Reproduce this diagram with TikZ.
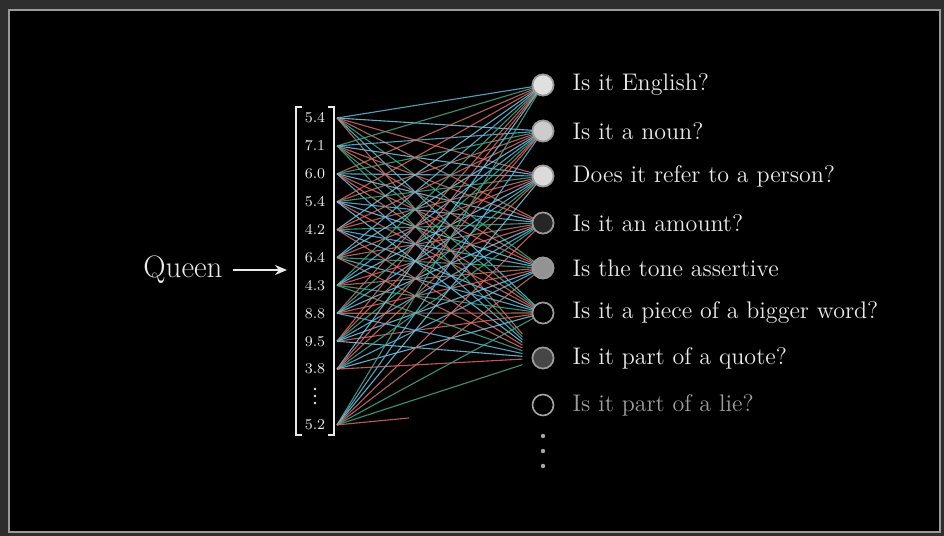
\documentclass[tikz,border=0pt]{standalone}
\usepackage{xcolor}
\usetikzlibrary{arrows.meta, positioning, calc}

\definecolor{framegray}{HTML}{2E2E2E}
\definecolor{edgegray}{HTML}{9A9A9A}
\definecolor{textw}{HTML}{EAEAEA}
\definecolor{lc0}{RGB}{95,190,225}
\definecolor{lc1}{RGB}{225,105,105}
\definecolor{lc2}{RGB}{70,170,140}
\definecolor{lc3}{RGB}{120,200,230}
\definecolor{lc4}{RGB}{200,120,100}

\begin{document}
\begin{tikzpicture}[
    x=0.5pt, y=-0.5pt,
    node distance=9pt,
    every node/.style={text=textw},
    entry/.style={font=\fontsize{7.5}{9}\selectfont, inner sep=0pt},
    neuron/.style={circle, draw=edgegray, line width=0.8pt, minimum size=10.5pt, inner sep=0pt},
    question/.style={font=\large, inner sep=0pt},
    wire/.style={line width=0.55pt, opacity=0.85},
    bracket/.style={draw=textw, line width=0.9pt},
    arrow/.style={-{Stealth[length=6pt, width=5pt]}, line width=1.2pt, draw=textw},
    dotmark/.style={circle, fill=gray!70, inner sep=0pt, minimum size=2.2pt},
    vdot/.style={circle, fill=textw, inner sep=0pt, minimum size=1.3pt}
]
\useasboundingbox (0,0) rectangle (944,536);
\fill[framegray] (0,0) rectangle (944,536);
\filldraw[fill=black, draw=edgegray, line width=1pt] (9,10) rectangle (940,532);

% Neurons
\node[neuron, fill=white!88!black] (n1) at (543,85)  {};
\node[neuron, fill=white!80!black] (n2) at (543,131) {};
\node[neuron, fill=white!86!black] (n3) at (543,176) {};
\node[neuron, fill=black!85]       (n4) at (543,223) {};
\node[neuron, fill=gray!85]        (n5) at (543,268) {};
\node[neuron, fill=black]          (n6) at (543,313) {};
\node[neuron, fill=gray!55!black]  (n7) at (543,358) {};
\node[neuron, fill=black, draw=gray!70] (n8) at (543,405) {};

% Vector entries
\foreach \i/\val in {1/5.4,2/7.1,3/6.0,4/5.4,5/4.2,6/6.4,7/4.3,8/8.8,9/9.5,10/3.8,12/5.2} {
    \node[entry] (v\i) at (315,{118+27.9*(\i-1)}) {\val};
    \coordinate (o\i) at (337,{118+27.9*(\i-1)});
}
\node[vdot] (vd1) at (315,389) {};
\node[vdot] (vd2) at (315,396) {};
\node[vdot] (vd3) at (315,403) {};

% Wires
\foreach \i in {1,...,10,12} {
    \foreach \j in {1,...,6} {
        \pgfmathtruncatemacro\c{mod(\i*7+\j*3,5)}
        \draw[wire, lc\c] (o\i) -- (n\j.center);
    }
    \pgfmathtruncatemacro\c{mod(\i*3+1,5)}
    \draw[wire, lc\c] (o\i) -- ($(o\i)!0.9!(n7.center)$);
}
\draw[wire, lc1] (o12) -- ($(o12)!0.35!(n8.center)$);

% Redraw neurons on top of wires
\foreach \k/\f in {1/white!88!black,2/white!80!black,3/white!86!black,4/black!85,5/gray!85,6/black,7/gray!55!black} {
    \filldraw[fill=\f, draw=edgegray, line width=0.8pt] (n\k) circle (5.25pt);
}

% Brackets
\draw[bracket] (302,107) -- (296,107) -- (296,435) -- (302,435);
\draw[bracket] (328,107) -- (334,107) -- (334,435) -- (328,435);

% Input word
\node[font=\fontsize{15.5}{18}\selectfont, inner sep=0pt] (queen) at (183,270) {Queen};
\coordinate (vin) at (287,270);
\draw[arrow] ([xshift=5pt]queen.east) -- (vin);

% Questions
\node[question, right=of n1] (q1) {Is it English?};
\node[question, right=of n2] (q2) {Is it a noun?};
\node[question, right=of n3] (q3) {Does it refer to a person?};
\node[question, right=of n4] (q4) {Is it an amount?};
\node[question, right=of n5] (q5) {Is the tone assertive};
\node[question, right=of n6] (q6) {Is it a piece of a bigger word?};
\node[question, right=of n7] (q7) {Is it part of a quote?};
\node[question, right=of n8, text=gray!75] (q8) {Is it part of a lie?};

% Dots
\node[dotmark] (d1) at (543,436) {};
\node[dotmark] (d2) at (543,451) {};
\node[dotmark] (d3) at (543,466) {};

\end{tikzpicture}
\end{document}
